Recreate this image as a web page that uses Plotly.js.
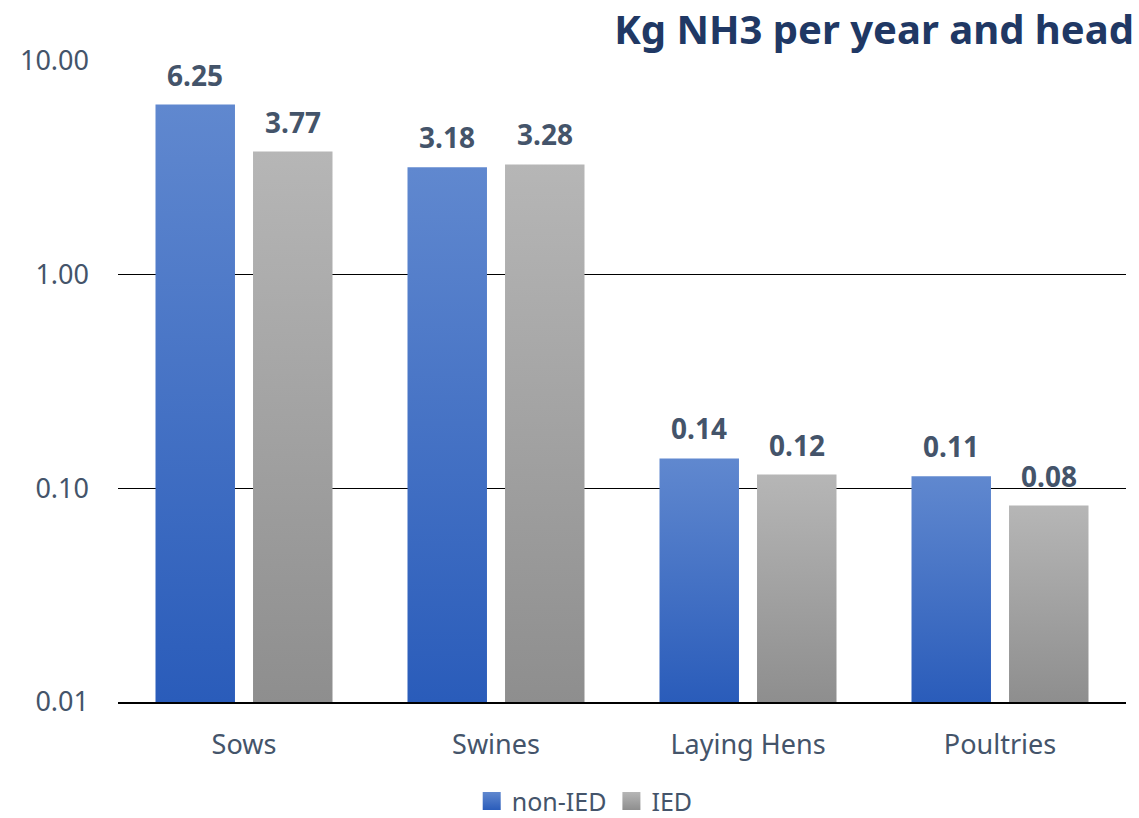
<!DOCTYPE html>
<html>
<head>
<meta charset="utf-8">
<script src="https://cdn.plot.ly/plotly-3.0.1.min.js"></script>
<style>html,body{margin:0;padding:0;background:#fff;}#chart{width:1139px;height:818px;}</style>
</head>
<body>
<div id="chart"></div>
<script>
const categories = ['Sows', 'Swines', 'Laying Hens', 'Poultries'];
const nonIED = [6.25, 3.18, 0.138, 0.114];
const IED = [3.77, 3.28, 0.116, 0.083];
const seriesNames = ['non-IED', 'IED'];
const yTickVals = [0.01, 0.1, 1, 10];
const yTickText = ['0.01', '0.10', '1.00', '10.00'];

const FONT = 'Noto Sans, Open Sans, sans-serif';
const TXT = '#44546a';
const bargap = 0.226, bargroupgap = 0.185;
const slot = (1 - bargap) / 2;

const traces = [
  {type: 'bar', name: seriesNames[0], x: categories, y: nonIED, marker: {color: '#4a74c8'}, hoverinfo: 'x+y'},
  {type: 'bar', name: seriesNames[1], x: categories, y: IED, marker: {color: '#a3a3a3'}, hoverinfo: 'x+y'}
];

const annotations = [];
[nonIED, IED].forEach((arr, s) => {
  arr.forEach((v, i) => {
    annotations.push({
      xref: 'x', yref: 'y', x: i + (s === 0 ? -slot / 2 : slot / 2), y: Math.log10(v),
      text: v.toFixed(2), showarrow: false, yanchor: 'bottom', yshift: 9,
      font: {family: FONT, size: 28, color: TXT, weight: 'bold'}
    });
  });
});

const layout = {
  width: 1139, height: 818,
  margin: {l: 118, r: 13, t: 61, b: 116, autoexpand: false},
  paper_bgcolor: '#fff', plot_bgcolor: '#fff',
  barmode: 'group', bargap: bargap, bargroupgap: bargroupgap,
  title: {text: '<b>Kg NH3 per year and head</b>', xref: 'container', yref: 'container',
    x: 1134 / 1139, xanchor: 'right', y: 1 - 30 / 818, yanchor: 'middle',
    font: {family: FONT, size: 40, color: '#203864'}},
  xaxis: {type: 'category', showgrid: false, showline: true, linecolor: '#000', linewidth: 1.5,
    ticks: '', ticklabelstandoff: 18, tickfont: {family: FONT, size: 27, color: TXT}, zeroline: false},
  yaxis: {type: 'log', range: [-2, 1], tickvals: yTickVals, ticktext: yTickText,
    showgrid: true, gridcolor: '#000', gridwidth: 1.2, showline: false, zeroline: false,
    ticks: '', ticklabelstandoff: 28, tickfont: {family: FONT, size: 27, color: TXT}},
  showlegend: true,
  legend: {orientation: 'h', x: 0.463, xanchor: 'center', y: -0.155, yanchor: 'middle',
    font: {family: FONT, size: 25, color: TXT}, itemwidth: 30, traceorder: 'normal'},
  annotations: annotations
};

const gradColors = [['#6088cf', '#2a5cba'], ['#b6b6b6', '#8e8e8e']];

function applyGradients(gd) {
  const svg = gd.querySelector('svg.main-svg');
  const ns = 'http://www.w3.org/2000/svg';
  let defs = svg.querySelector('defs');
  if (!defs) { defs = document.createElementNS(ns, 'defs'); svg.insertBefore(defs, svg.firstChild); }
  const mk = (id, c, y1, y2) => {
    const g = document.createElementNS(ns, 'linearGradient');
    g.setAttribute('id', id);
    if (y1 !== undefined) {
      g.setAttribute('gradientUnits', 'userSpaceOnUse');
      g.setAttribute('x1', '0'); g.setAttribute('x2', '0');
      g.setAttribute('y1', y1); g.setAttribute('y2', y2);
    } else {
      g.setAttribute('x1', '0'); g.setAttribute('y1', '0');
      g.setAttribute('x2', '0'); g.setAttribute('y2', '1');
    }
    [['0%', c[0]], ['100%', c[1]]].forEach(([o, col]) => {
      const st = document.createElementNS(ns, 'stop');
      st.setAttribute('offset', o); st.setAttribute('stop-color', col); g.appendChild(st);
    });
    defs.appendChild(g);
  };
  const plotH = gd._fullLayout.yaxis._length;
  gd.querySelectorAll('.barlayer .trace').forEach((t, i) => {
    t.querySelectorAll('path').forEach((p, j) => {
      const nums = (p.getAttribute('d') || '').match(/-?\d+(\.\d+)?(e[-+]?\d+)?/gi) || [];
      const ys = [];
      if (nums.length >= 5) { ys.push(+nums[1], +nums[2], +nums[4]); }
      const top = ys.length ? Math.max(0, Math.min.apply(null, ys)) : 0;
      const id = 'gb' + i + '_' + j;
      mk(id, gradColors[i], top, plotH);
      p.style.fill = 'url(#' + id + ')';
    });
  });
  gd.querySelectorAll('.legend .traces').forEach((t, i) => {
    const id = 'gl' + i;
    mk(id, gradColors[i]);
    t.querySelectorAll('.legendpoints path').forEach(p => {
      p.setAttribute('d', 'M9,9H-9V-9H9Z');
      p.style.fill = 'url(#' + id + ')';
      p.style.stroke = 'none';
    });
  });
}

Plotly.newPlot('chart', traces, layout, {displayModeBar: false, staticPlot: true}).then(applyGradients);
</script>
</body>
</html>
